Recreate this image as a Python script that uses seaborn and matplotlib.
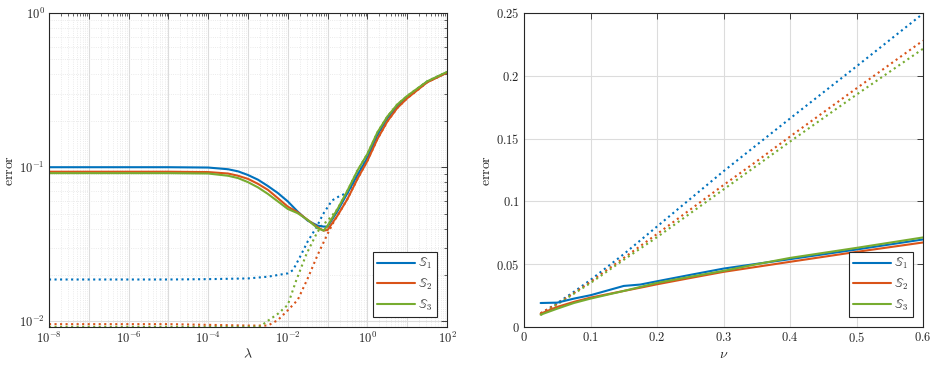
import numpy as np
import pandas as pd
import seaborn as sns
import matplotlib
matplotlib.use("Agg")
import matplotlib.pyplot as plt
from matplotlib.ticker import LogLocator, FuncFormatter, NullFormatter, MultipleLocator

# region data
# left panel: error vs lambda (log10 of lambda)
lam_exp = [-8, -5, -4, -3.5, -3.25, -3, -2.75, -2.5, -2.25, -2, -1.75, -1.5, -1.25, -1.1, -1,
           -0.75, -0.5, -0.25, 0, 0.25, 0.5, 0.75, 1, 1.5, 2]
s1_solid = [0.100, 0.100, 0.0995, 0.097, 0.094, 0.089, 0.083, 0.0755, 0.068, 0.060, 0.0515,
            0.0450, 0.0418, 0.0412, 0.0412, 0.052, 0.068, 0.089, 0.115, 0.162, 0.208, 0.250,
            0.286, 0.358, 0.412]
s2_solid = [0.0935, 0.0935, 0.093, 0.091, 0.088, 0.084, 0.078, 0.0713, 0.063, 0.0555, 0.051,
            0.0455, 0.0408, 0.0388, 0.0392, 0.0486, 0.0623, 0.084, 0.110, 0.152, 0.198, 0.242,
            0.280, 0.355, 0.410]
s3_solid = [0.0915, 0.0915, 0.091, 0.088, 0.085, 0.080, 0.074, 0.0671, 0.060, 0.0536, 0.0503,
            0.0455, 0.0402, 0.0388, 0.0418, 0.0536, 0.0706, 0.095, 0.122, 0.168, 0.213, 0.255,
            0.290, 0.360, 0.415]

lam_exp_d1 = [-8, -5, -4, -3, -2.5, -2, -1.87, -1.7, -1.5, -1.28, -1.11, -0.89, -0.68, -0.5,
              -0.25, 0, 0.25, 0.5, 0.75, 1, 1.5, 2]
s1_dotted = [0.0187, 0.0187, 0.0188, 0.0190, 0.0195, 0.0205, 0.0215, 0.0260, 0.0330, 0.0408,
             0.0498, 0.0608, 0.0655, 0.068, 0.089, 0.115, 0.162, 0.208, 0.250, 0.286, 0.358, 0.412]
lam_exp_d2 = [-8, -5, -4, -3, -2.5, -2.25, -2, -1.75, -1.5, -1.25, -1, -0.85, -0.75, -0.5,
              -0.25, 0, 0.25, 0.5, 0.75, 1, 1.5, 2]
s2_dotted = [0.0096, 0.0096, 0.0095, 0.0094, 0.0094, 0.0102, 0.0118, 0.0138, 0.0190, 0.0270,
             0.0370, 0.0440, 0.0486, 0.0623, 0.084, 0.110, 0.152, 0.198, 0.242, 0.280, 0.355, 0.410]
lam_exp_d3 = [-8, -5, -4, -3, -2.7, -2.5, -2.25, -2, -1.79, -1.53, -1.28, -1.15, -1, -0.75,
              -0.5, -0.25, 0, 0.25, 0.5, 0.75, 1, 1.5, 2]
s3_dotted = [0.00922, 0.00922, 0.00922, 0.00922, 0.00925, 0.0101, 0.0112, 0.0128, 0.0184, 0.0274,
             0.0370, 0.0418, 0.0450, 0.0536, 0.0706, 0.095, 0.122, 0.168, 0.213, 0.255, 0.290,
             0.360, 0.415]

# right panel: error vs nu
nu = [0.025, 0.05, 0.075, 0.1, 0.15, 0.175, 0.2, 0.25, 0.3, 0.35, 0.4, 0.5, 0.6]
n1_solid = [0.0191, 0.0194, 0.0226, 0.0253, 0.0327, 0.0338, 0.0364, 0.0415, 0.0465, 0.0503, 0.054, 0.0617, 0.0697]
n2_solid = [0.0106, 0.016, 0.020, 0.0234, 0.0287, 0.0313, 0.034, 0.039, 0.0439, 0.0479, 0.0519, 0.0598, 0.0673]
n3_solid = [0.0098, 0.0146, 0.0191, 0.0226, 0.0287, 0.0319, 0.0351, 0.040, 0.0447, 0.050, 0.055, 0.063, 0.0713]
n1_dotted = [0.0106, 0.0190, 0.0280, 0.0375, 0.058, 0.069, 0.080, 0.102, 0.124, 0.145, 0.166, 0.2075, 0.2495]
n2_dotted = [0.011, 0.0185, 0.027, 0.036, 0.055, 0.0645, 0.074, 0.0935, 0.113, 0.132, 0.1516, 0.190, 0.228]
n3_dotted = [0.0095, 0.018, 0.0265, 0.035, 0.0535, 0.0625, 0.0715, 0.0905, 0.1095, 0.1285, 0.1476, 0.185, 0.2215]

labels = [r'$\mathbb{S}_1$', r'$\mathbb{S}_2$', r'$\mathbb{S}_3$']
colors = ['#0072BD', '#D95319', '#77AC30']
# endregion

sns.set_theme(style="white")
plt.rcParams['mathtext.fontset'] = 'cm'
plt.rcParams['font.family'] = ['DejaVu Serif']
plt.rcParams['axes.unicode_minus'] = False

fig = plt.figure(figsize=(9.36, 3.66), dpi=100)
ax1 = fig.add_axes([49 / 936, 39 / 366, 398 / 936, 314 / 366])
ax2 = fig.add_axes([524 / 936, 39 / 366, 399 / 936, 314 / 366])

lw = 1.5

# left panel, dotted first so the solid lines sit on top
left_dotted = [(lam_exp_d1, s1_dotted), (lam_exp_d2, s2_dotted), (lam_exp_d3, s3_dotted)]
for (xe, yv), c in zip(left_dotted, colors):
    sns.lineplot(x=10.0 ** np.array(xe), y=yv, ax=ax1, color=c, linestyle=':', lw=lw, legend=False)
for yv, c, lab in zip([s1_solid, s2_solid, s3_solid], colors, labels):
    sns.lineplot(x=10.0 ** np.array(lam_exp), y=yv, ax=ax1, color=c, lw=lw, label=lab)

# right panel
for yv, c in zip([n1_dotted, n2_dotted, n3_dotted], colors):
    sns.lineplot(x=nu, y=yv, ax=ax2, color=c, linestyle=':', lw=lw, legend=False)
for yv, c, lab in zip([n1_solid, n2_solid, n3_solid], colors, labels):
    sns.lineplot(x=nu, y=yv, ax=ax2, color=c, lw=lw, label=lab)

def log_fmt(show_odd):
    def f(v, pos):
        e = int(np.round(np.log10(v)))
        if not show_odd and e % 2 != 0:
            return ''
        return r'$10^{%d}$' % e
    return f

ax1.set_xscale('log')
ax1.set_yscale('log')
ax1.set_xlim(1e-8, 1e2)
ax1.set_ylim(0.0092, 1)
ax1.xaxis.set_major_locator(LogLocator(base=10, numticks=20))
ax1.xaxis.set_major_formatter(FuncFormatter(log_fmt(False)))
ax1.xaxis.set_minor_locator(LogLocator(base=10, subs=np.arange(2, 10), numticks=200))
ax1.xaxis.set_minor_formatter(NullFormatter())
ax1.yaxis.set_major_locator(LogLocator(base=10, numticks=10))
ax1.yaxis.set_major_formatter(FuncFormatter(log_fmt(True)))
ax1.yaxis.set_minor_locator(LogLocator(base=10, subs=np.arange(2, 10), numticks=50))
ax1.yaxis.set_minor_formatter(NullFormatter())
ax1.set_xlabel(r'$\lambda$', fontsize=10, labelpad=1)

ax2.set_xlim(0, 0.6)
ax2.set_ylim(0, 0.25)
ax2.xaxis.set_major_locator(MultipleLocator(0.1))
ax2.yaxis.set_major_locator(MultipleLocator(0.05))
ax2.xaxis.set_major_formatter(FuncFormatter(lambda v, p: '$0$' if abs(v) < 1e-9 else '$%g$' % round(v, 3)))
ax2.yaxis.set_major_formatter(FuncFormatter(lambda v, p: '$0$' if abs(v) < 1e-9 else '$%g$' % round(v, 3)))
ax2.set_xlabel(r'$\nu$', fontsize=10, labelpad=1)

for ax in (ax1, ax2):
    ax.set_ylabel(r'$\mathrm{error}$', fontsize=10, labelpad=2)
    ax.grid(True, which='major', color='#dcdcdc', lw=0.8, ls='-')
    ax.tick_params(which='both', direction='in', top=True, right=True,
                   color='#262626', labelsize=9, pad=3)
    ax.tick_params(which='major', length=4, width=0.6)
    ax.tick_params(which='minor', length=2, width=0.5)
    for s in ax.spines.values():
        s.set_color('#262626')
        s.set_linewidth(0.8)
    leg = ax.legend(loc='lower right', fontsize=9, handlelength=3.0, frameon=True,
                    fancybox=False, framealpha=1, borderaxespad=0.8, labelspacing=0.45,
                    handletextpad=0.3, borderpad=0.35)
    leg.get_frame().set_edgecolor('#262626')
    leg.get_frame().set_linewidth(0.8)
ax1.grid(True, which='minor', color='#e4e4e4', lw=0.6, ls=':')
ax2.minorticks_off()

plt.savefig('out.png', dpi=100)
